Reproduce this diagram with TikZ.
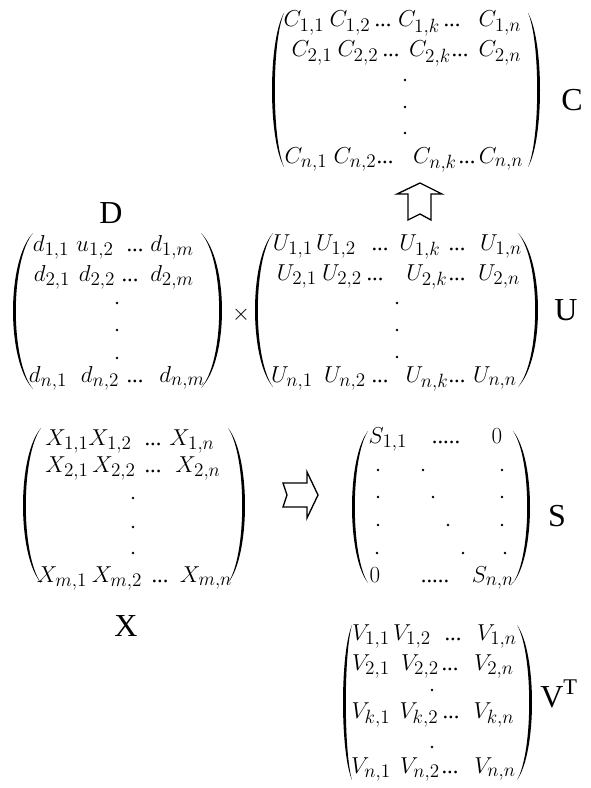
\documentclass[tikz,border=0pt]{standalone}
\usepackage{fontspec}
\setmainfont{Liberation Serif}
\DeclareMathSizes{17}{17}{14}{10}
\newcommand\parL[4]{%
  \fill[black] (#1,#2) .. controls ({#1+1.333*(#4-#1)},{#2+0.18*(#3-#2)}) and ({#1+1.333*(#4-#1)},{#3-0.18*(#3-#2)}) .. (#1,#3)
   .. controls ({#1+1.333*(#4+2.8-#1)},{#3-0.18*(#3-#2)}) and ({#1+1.333*(#4+2.8-#1)},{#2+0.18*(#3-#2)}) .. cycle;}
\newcommand\parR[4]{%
  \fill[black] (#1,#2) .. controls ({#1+1.333*(#4-#1)},{#2+0.18*(#3-#2)}) and ({#1+1.333*(#4-#1)},{#3-0.18*(#3-#2)}) .. (#1,#3)
   .. controls ({#1+1.333*(#4-2.8-#1)},{#3-0.18*(#3-#2)}) and ({#1+1.333*(#4-2.8-#1)},{#2+0.18*(#3-#2)}) .. cycle;}
\tikzset{
  ent/.style={anchor=base, inner sep=0pt, font=\fontsize{17}{20}\selectfont},
  lab/.style={anchor=base, inner sep=0pt, font=\fontsize{24}{28}\selectfont},
  blockarrow/.style={draw=black, line width=1pt, line join=miter, fill=white},
  vdot/.style={fill=black}
}
\begin{document}
\begin{tikzpicture}[x=0.75pt, y=-0.75pt]
\useasboundingbox (0,0) rectangle (591,788);

% matrix entries
\foreach \n/\x/\y/\t in {
 c11/304/27/{C_{1,1}}, c12/350/27/{C_{1,2}}, c1k/419/27/{C_{1,k}}, c1n/500/27/{C_{1,n}},
 c21/312/57/{C_{2,1}}, c22/358/57/{C_{2,2}}, c2k/430/57/{C_{2,k}}, c2n/500/57/{C_{2,n}},
 cn1/306/163/{C_{n,1}}, cn2/355/163/{C_{n,2}}, cnk/435/163/{C_{n,k}}, cnn/501/163/{C_{n,n}},
 d11/51/251/{d_{1,1}}, u12/95/251/{u_{1,2}}, d1m/172/251/{d_{1,m}},
 d21/52/281/{d_{2,1}}, d22/97/281/{d_{2,2}}, d2m/172/281/{d_{2,m}},
 dn1/48/382/{d_{n,1}}, dn2/100/382/{d_{n,2}}, dnm/182/382/{d_{n,m}},
 U11/293/250/{U_{1,1}}, U12/336/250/{U_{1,2}}, U1k/420/250/{U_{1,k}}, U1n/501/250/{U_{1,n}},
 U21/297/280/{U_{2,1}}, U22/342/280/{U_{2,2}}, U2k/427/280/{U_{2,k}}, U2n/499/280/{U_{2,n}},
 Un1/292/382/{U_{n,1}}, Un2/345/382/{U_{n,2}}, Unk/427/382/{U_{n,k}}, Unn/495/382/{U_{n,n}},
 x11/67/445/{X_{1,1}}, x12/110/445/{X_{1,2}}, x1n/192/445/{X_{1,n}},
 x21/67/472/{X_{2,1}}, x22/114/472/{X_{2,2}}, x2n/198/472/{X_{2,n}},
 xm1/62/582/{X_{m,1}}, xm2/117/582/{X_{m,2}}, xmn/206/582/{X_{m,n}},
 s11/388/443/{S_{1,1}}, s1n/497/443/{0}, sn1/375/582/{0}, snn/493/582/{S_{n,n}},
 v11/371/640/{V_{1,1}}, v12/412/640/{V_{1,2}}, v1n/497/640/{V_{1,n}},
 v21/371/670/{V_{2,1}}, v22/420/670/{V_{2,2}}, v2n/494/670/{V_{2,n}},
 vk1/371/718/{V_{k,1}}, vk2/419/718/{V_{k,2}}, vkn/494/718/{V_{k,n}},
 vn1/371/773/{V_{n,1}}, vn2/420/773/{V_{n,2}}, vnn/495/773/{V_{n,n}}}
 \node[ent] (\n) at (\x,\y) {$\t$};

% horizontal ellipses
\foreach \n/\x/\y in {
 cda1/383/27, cdb1/452/27, cda2/391/57, cdb2/460/57, cdan/385/163, cdbn/467/163,
 dd1/135/251, dd2/130/281, ddn/135/382,
 Uda1/380/250, Udb1/457/250, Uda2/375/280, Udb2/457/280, Udan/380/382, Udbn/457/382,
 xd1/153/445, xd2/153/472, xdm/160/582,
 vd1/453/640, vd2/450/670, vdk/451/718, vdn/450/773}
 \node[ent] (\n) at (\x,\y) {...};
\node[ent] (sd1) at (446,443) {.....};
\node[ent] (sdn) at (435,582) {.....};

% vertical dots
\foreach \x/\y in {405/80, 405/107, 405/133,
 117/303, 117/330, 117/358,
 397/303, 397/330, 397/357,
 133/498, 133/527, 133/553,
 378/470, 423/470, 502/470, 378/497, 433/497, 502/497,
 378/525, 448/525, 502/525, 377/553, 463/553, 505/553,
 432/690, 432/747}
 \fill[vdot] (\x,\y) circle (1.3);

% parentheses
\parL{284}{13}{167}{272} \parR{528}{13}{167}{540}
\parL{33}{233}{389}{13}  \parR{201}{233}{388}{222}
\parL{273}{233}{387}{255} \parR{518}{233}{387}{538}
\parL{41}{428}{583}{23}  \parR{228}{428}{583}{245}
\parL{368}{431}{583}{352} \parR{513}{431}{583}{530}
\parL{352}{625}{780}{343} \parR{517}{625}{780}{532}

% labels
\node[lab] (labC) at (572,111) {C};
\node[lab] (labD) at (111,223) {D};
\node[lab] (labU) at (566,320) {U};
\node[lab] (labX) at (126,636) {X};
\node[lab] (labS) at (557,526) {S};
\node[lab, anchor=base west] (labV) at (540,707) {V\textsuperscript{T}};
\node[anchor=center, inner sep=0pt, font=\fontsize{17}{20}\selectfont] (times) at (241,315) {$\times$};

% block arrows
\draw[blockarrow] (420,183) -- (442,194) -- (431,194) -- (431,220) -- (420,214) -- (408,220) -- (408,194) -- (397,194) -- cycle;
\draw[blockarrow] (318,495) -- (307,518) -- (307,507) -- (283,507) -- (287,495) -- (283,483) -- (307,483) -- (307,472) -- cycle;
\end{tikzpicture}
\end{document}
